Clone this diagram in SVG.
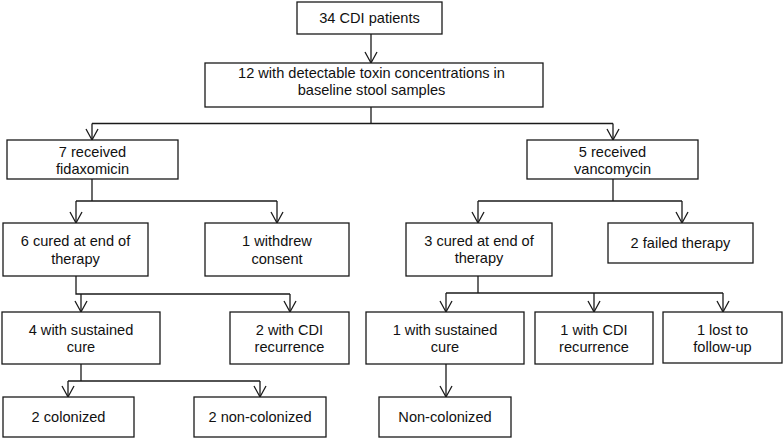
<svg xmlns="http://www.w3.org/2000/svg" width="784" height="439" viewBox="0 0 784 439">
<defs>
<style>
.box{fill:#fff;stroke:#1a1a1a;stroke-width:1.3}
.t{font-family:"Liberation Sans",Arial,sans-serif;font-size:14.6px;fill:#111;text-anchor:middle}
.c{fill:none;stroke:#1a1a1a;stroke-width:1.3}
</style>
<marker id="ah" markerUnits="userSpaceOnUse" markerWidth="14" markerHeight="14" refX="0" refY="0" orient="auto" overflow="visible">
<path d="M-11,-6 L0,0 L-11,6" fill="none" stroke="#1a1a1a" stroke-width="1.3"/>
</marker>
</defs>
<rect width="784" height="439" fill="#fff"/>
<g id="connectors">
<line class="c" x1="371" y1="34" x2="371" y2="63" marker-end="url(#ah)"/>
<polyline class="c" points="371,107 371,123.5"/>
<polyline class="c" points="92,123.5 613,123.5"/>
<line class="c" x1="92" y1="123.5" x2="92" y2="140" marker-end="url(#ah)"/>
<line class="c" x1="613" y1="123.5" x2="613" y2="140" marker-end="url(#ah)"/>
<polyline class="c" points="92,179 92,201"/>
<polyline class="c" points="76,201 277,201"/>
<line class="c" x1="76" y1="201" x2="76" y2="223" marker-end="url(#ah)"/>
<line class="c" x1="277" y1="201" x2="277" y2="223" marker-end="url(#ah)"/>
<polyline class="c" points="613,179 613,201"/>
<polyline class="c" points="478,201 682,201"/>
<line class="c" x1="478" y1="201" x2="478" y2="223" marker-end="url(#ah)"/>
<line class="c" x1="682" y1="201" x2="682" y2="223" marker-end="url(#ah)"/>
<polyline class="c" points="76,276 76,294 290,294"/>
<line class="c" x1="81" y1="294" x2="81" y2="312" marker-end="url(#ah)"/>
<line class="c" x1="290" y1="294" x2="290" y2="312" marker-end="url(#ah)"/>
<polyline class="c" points="81,364 81,381"/>
<polyline class="c" points="68,381 260,381"/>
<line class="c" x1="68" y1="381" x2="68" y2="397" marker-end="url(#ah)"/>
<line class="c" x1="260" y1="381" x2="260" y2="397" marker-end="url(#ah)"/>
<polyline class="c" points="478,276 478,293"/>
<polyline class="c" points="446,293 723,293"/>
<line class="c" x1="446" y1="293" x2="446" y2="312" marker-end="url(#ah)"/>
<line class="c" x1="594" y1="293" x2="594" y2="312" marker-end="url(#ah)"/>
<line class="c" x1="723" y1="293" x2="723" y2="312" marker-end="url(#ah)"/>
<line class="c" x1="446" y1="364" x2="446" y2="397" marker-end="url(#ah)"/>
</g>
<g id="n1"><rect class="box" x="297" y="2" width="145" height="32"/><text class="t" x="369.5" y="23">34 CDI patients</text></g>
<g id="n2"><rect class="box" x="205" y="63" width="338" height="44"/><text class="t" x="371.5" y="77.5">12 with detectable toxin concentrations in</text><text class="t" x="371.5" y="94.5">baseline stool samples</text></g>
<g id="n3"><rect class="box" x="7" y="140" width="171" height="39"/><text class="t" x="92.5" y="156.5">7 received</text><text class="t" x="92.5" y="174">fidaxomicin</text></g>
<g id="n4"><rect class="box" x="527" y="140" width="171" height="39"/><text class="t" x="612.5" y="156.5">5 received</text><text class="t" x="612.5" y="174">vancomycin</text></g>
<g id="n5"><rect class="box" x="3" y="223" width="145" height="53"/><text class="t" x="75.5" y="246">6 cured at end of</text><text class="t" x="75.5" y="263.5">therapy</text></g>
<g id="n6"><rect class="box" x="205" y="223" width="144" height="53"/><text class="t" x="277" y="246">1 withdrew</text><text class="t" x="277" y="263.5">consent</text></g>
<g id="n7"><rect class="box" x="406" y="223" width="146" height="53"/><text class="t" x="479" y="245.5">3 cured at end of</text><text class="t" x="479" y="263">therapy</text></g>
<g id="n8"><rect class="box" x="608" y="223" width="145" height="40"/><text class="t" x="680.5" y="248">2 failed therapy</text></g>
<g id="n9"><rect class="box" x="2" y="312" width="158" height="52"/><text class="t" x="81" y="334.5">4 with sustained</text><text class="t" x="81" y="352">cure</text></g>
<g id="n10"><rect class="box" x="230" y="312" width="119" height="52"/><text class="t" x="289.5" y="334.5">2 with CDI</text><text class="t" x="289.5" y="352">recurrence</text></g>
<g id="n11"><rect class="box" x="366" y="312" width="158" height="52"/><text class="t" x="445" y="334.5">1 with sustained</text><text class="t" x="445" y="352">cure</text></g>
<g id="n12"><rect class="box" x="535" y="312" width="118" height="52"/><text class="t" x="594" y="334.5">1 with CDI</text><text class="t" x="594" y="352">recurrence</text></g>
<g id="n13"><rect class="box" x="663" y="312" width="119" height="51"/><text class="t" x="722.5" y="334.5">1 lost to</text><text class="t" x="722.5" y="352">follow-up</text></g>
<g id="n14"><rect class="box" x="3" y="397" width="131" height="40"/><text class="t" x="68.5" y="422">2 colonized</text></g>
<g id="n15"><rect class="box" x="194" y="397" width="132" height="40"/><text class="t" x="260" y="422">2 non-colonized</text></g>
<g id="n16"><rect class="box" x="379" y="397" width="132" height="40"/><text class="t" x="445" y="422">Non-colonized</text></g>
</svg>
